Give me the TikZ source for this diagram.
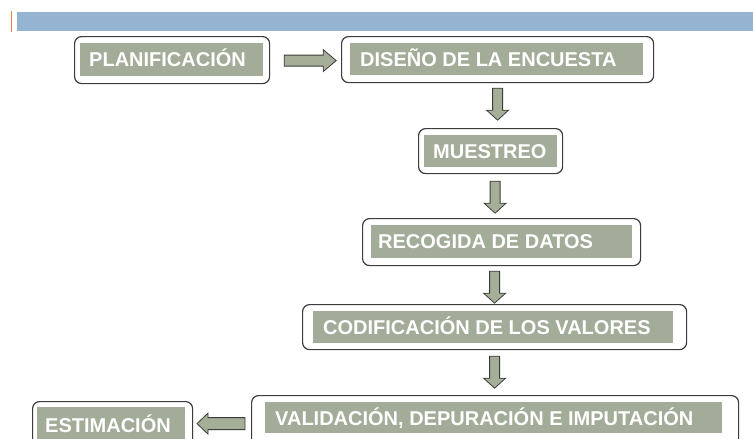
\documentclass[tikz,border=0pt]{standalone}
\usepackage{fontspec}
\setmainfont{Liberation Sans}
\usetikzlibrary{calc}
\definecolor{sage}{HTML}{A3AC98}
\definecolor{arrowfill}{HTML}{A5AF97}
\definecolor{barblue}{HTML}{94B4D2}
\definecolor{accent}{HTML}{E2803E}
\definecolor{frame}{HTML}{3C3C3C}
\tikzset{
  outerbox/.style={draw=frame, line width=1.2pt, rounded corners=7pt, fill=white, inner sep=0pt, anchor=north west},
  innerbox/.style={fill=sage, inner sep=0pt, anchor=north west},
  steptext/.style={text=white, font=\fontsize{20}{22}\selectfont\bfseries, inner sep=0pt, anchor=base west},
  blockarrow/.style={draw=frame, fill=arrowfill, line width=0.8pt, line join=miter},
  pics/downarrow/.style={code={
    \draw[blockarrow] (-5,0) -- (5,0) -- (5,22) -- (11,22) -- (0,32) -- (-11,22) -- (-5,22) -- cycle;}},
  pics/rightarrow/.style={code={
    \draw[blockarrow] (0,-5.5) -- (39,-5.5) -- (39,-11) -- (52,0) -- (39,11) -- (39,5.5) -- (0,5.5) -- cycle;}},
  pics/leftarrow/.style={code={
    \draw[blockarrow] (0,-6) -- (-37,-6) -- (-37,-10.5) -- (-48,0) -- (-37,10.5) -- (-37,6) -- (0,6) -- cycle;}},
}
\begin{document}
\begin{tikzpicture}[x=1pt, y=-1pt]
\clip (0,0) rectangle (753,439);
\fill[white] (0,0) rectangle (753,439);
% header bar
\fill[barblue] (17,12) rectangle (753,31);
\fill[accent] (10.5,11) rectangle (12,32);

% PLANIFICACION
\node[outerbox, minimum width=195pt, minimum height=47pt] (plan) at (74,36) {};
\node[innerbox, minimum width=183pt, minimum height=33pt] (planin) at (80,43) {};
\node[steptext] (plantx) at (89,66.7) {PLANIFICACIÓN};

% DISENO
\node[outerbox, minimum width=312pt, minimum height=46pt] (dis) at (341,36) {};
\node[innerbox, minimum width=293pt, minimum height=32pt] (disin) at (350,43) {};
\node[steptext] (distx) at (360,66.2) {DISEÑO DE LA ENCUESTA};

% MUESTREO
\node[outerbox, minimum width=144pt, minimum height=45pt] (mue) at (418,128) {};
\node[innerbox, minimum width=133pt, minimum height=32pt] (muein) at (424,135) {};
\node[steptext] (muetx) at (433,158.2) {MUESTREO};

% RECOGIDA
\node[outerbox, minimum width=278pt, minimum height=47pt] (rec) at (362,218) {};
\node[innerbox, minimum width=261pt, minimum height=33pt] (recin) at (371,225) {};
\node[steptext] (rectx) at (378,248.7) {RECOGIDA DE DATOS};

% CODIFICACION
\node[outerbox, minimum width=384pt, minimum height=45pt] (cod) at (302,304) {};
\node[innerbox, minimum width=360pt, minimum height=32pt] (codin) at (313,311) {};
\node[steptext] (codtx) at (323,334.2) {CODIFICACIÓN DE LOS VALORES};

% VALIDACION
\node[outerbox, minimum width=487pt, minimum height=56pt] (val) at (251,395) {};
\node[innerbox, minimum width=457pt, minimum height=31pt] (valin) at (265,402) {};
\node[steptext] (valtx) at (275,425) {VALIDACIÓN, DEPURACIÓN E IMPUTACIÓN};

% ESTIMACION
\node[outerbox, minimum width=160pt, minimum height=50pt] (est) at (32,401) {};
\node[innerbox, minimum width=148pt, minimum height=40pt] (estin) at (37,407) {};
\node[steptext] (esttx) at (45,432) {ESTIMACIÓN};

% connectors
\path (plan.east) ++(14,0.5) pic {rightarrow};
\path (dis.south) ++(0,5) pic {downarrow};
\path (mue.south) ++(4.5,7) pic {downarrow};
\path (rec.south) ++(-7,5) pic {downarrow};
\path (cod.south) ++(0,6) pic {downarrow};
\path (val.west) ++(-6,0) pic {leftarrow};
\end{tikzpicture}
\end{document}
